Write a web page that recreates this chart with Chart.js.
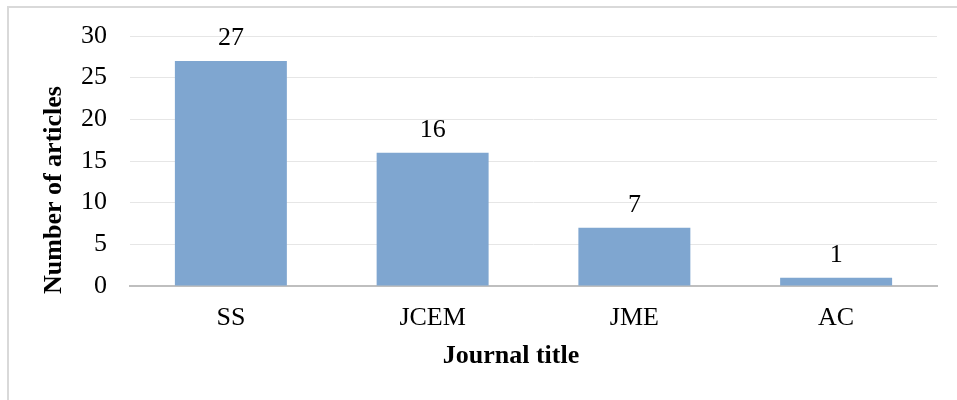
<!DOCTYPE html>
<html>
<head>
<meta charset="utf-8">
<script src="https://cdn.jsdelivr.net/npm/chart.js@4/dist/chart.umd.min.js"></script>
<style>
  html, body { margin: 0; padding: 0; background: #ffffff; }
  #wrap { width: 957px; height: 400px; }
</style>
</head>
<body>
<div id="wrap"><canvas id="chart" width="957" height="400"></canvas></div>
<script>
const journals = ['SS', 'JCEM', 'JME', 'AC'];
const articleCounts = [27, 16, 7, 1];
const yMax = 30;
const yStep = 5;
const xTitle = 'Journal title';
const yTitle = 'Number of articles';

const serif = "'Liberation Serif', 'Times New Roman', serif";

// Outer frame, value labels and axis titles
const decorations = {
  id: 'decorations',
  beforeDraw(chart) {
    const ctx = chart.ctx;
    ctx.save();
    ctx.strokeStyle = '#d9d9d9';
    ctx.lineWidth = 2;
    ctx.beginPath();
    ctx.moveTo(8, 400);
    ctx.lineTo(8, 7);
    ctx.lineTo(957, 7);
    ctx.stroke();
    ctx.restore();
  },
  afterDatasetsDraw(chart) {
    const ctx = chart.ctx;
    const meta = chart.getDatasetMeta(0);
    ctx.save();
    ctx.fillStyle = '#000000';
    ctx.font = '26px ' + serif;
    ctx.textAlign = 'center';
    ctx.textBaseline = 'alphabetic';
    meta.data.forEach((bar, i) => {
      ctx.fillText(String(articleCounts[i]), bar.x, bar.y - 16);
    });
    ctx.font = 'bold 26px ' + serif;
    ctx.fillText(xTitle, 511, 363);
    ctx.translate(61, 190);
    ctx.rotate(-Math.PI / 2);
    ctx.fillText(yTitle, 0, 0);
    ctx.restore();
  }
};

new Chart(document.getElementById('chart'), {
  type: 'bar',
  data: {
    labels: journals,
    datasets: [{
      data: articleCounts,
      backgroundColor: 'rgb(127,166,208)',
      borderWidth: 0,
      barPercentage: 0.555,
      categoryPercentage: 1.0
    }]
  },
  options: {
    responsive: false,
    animation: false,
    devicePixelRatio: 1,
    layout: { padding: { top: 36, right: 20, left: 0, bottom: 0 } },
    plugins: {
      legend: { display: false },
      tooltip: { enabled: false }
    },
    scales: {
      x: {
        afterFit(scale) { scale.height = 114; },
        grid: { display: false, drawTicks: false },
        border: { display: true, color: '#bfbfbf', width: 2 },
        ticks: {
          padding: 17,
          color: '#000000',
          font: { family: serif, size: 26 }
        }
      },
      y: {
        min: 0,
        max: yMax,
        afterFit(scale) {
          scale.width = 130;
          scale.paddingTop = 0;
          scale.paddingBottom = 0;
        },
        grid: { color: '#e6e6e6', lineWidth: 1, drawTicks: false },
        border: { display: false },
        ticks: {
          stepSize: yStep,
          padding: 23,
          color: '#000000',
          font: { family: serif, size: 26 }
        }
      }
    }
  },
  plugins: [decorations]
});
</script>
</body>
</html>
